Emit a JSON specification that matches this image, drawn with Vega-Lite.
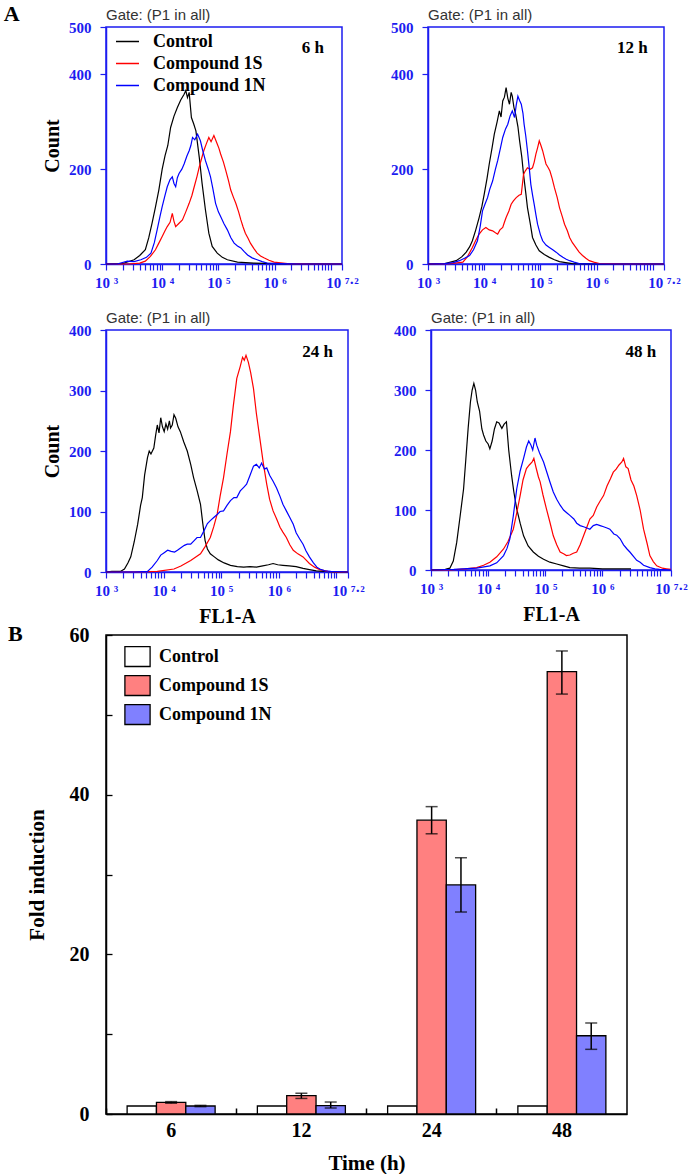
{
"$schema":"https://vega.github.io/schema/vega-lite/v6.json",
"background":"white",
"padding":{"left":3,"top":3,"right":5,"bottom":0},
"config":{"view":{"stroke":"#1c1cf0","strokeWidth":1.5},"axis":{"grid":false}},
"datasets":{
"h6c":[{"e":3,"c":0},{"e":3.3,"c":1},{"e":3.5,"c":9},{"e":3.6,"c":18},{"e":3.7,"c":30},{"e":3.76,"c":55},{"e":3.82,"c":86},{"e":3.88,"c":120},{"e":3.94,"c":156},{"e":4,"c":200},{"e":4.05,"c":228},{"e":4.1,"c":250},{"e":4.15,"c":288},{"e":4.21,"c":312},{"e":4.27,"c":330},{"e":4.33,"c":346},{"e":4.39,"c":358},{"e":4.42,"c":366},{"e":4.45,"c":351},{"e":4.48,"c":362},{"e":4.52,"c":309},{"e":4.56,"c":296},{"e":4.6,"c":281},{"e":4.66,"c":225},{"e":4.71,"c":170},{"e":4.77,"c":114},{"e":4.83,"c":65},{"e":4.89,"c":37},{"e":4.98,"c":23},{"e":5.07,"c":14},{"e":5.16,"c":9},{"e":5.34,"c":4},{"e":5.63,"c":2},{"e":6,"c":1},{"e":6.5,"c":0},{"e":7.2,"c":0}],
"h6s":[{"e":3,"c":0},{"e":3.4,"c":0},{"e":3.6,"c":2},{"e":3.7,"c":6},{"e":3.79,"c":16},{"e":3.88,"c":30},{"e":3.94,"c":44},{"e":4,"c":58},{"e":4.05,"c":70},{"e":4.09,"c":79},{"e":4.14,"c":88},{"e":4.18,"c":107},{"e":4.21,"c":90},{"e":4.24,"c":79},{"e":4.3,"c":86},{"e":4.36,"c":93},{"e":4.42,"c":110},{"e":4.48,"c":128},{"e":4.53,"c":145},{"e":4.57,"c":163},{"e":4.62,"c":185},{"e":4.66,"c":205},{"e":4.7,"c":222},{"e":4.74,"c":239},{"e":4.79,"c":255},{"e":4.83,"c":267},{"e":4.87,"c":258},{"e":4.92,"c":271},{"e":4.95,"c":262},{"e":4.98,"c":253},{"e":5.01,"c":244},{"e":5.04,"c":232},{"e":5.09,"c":215},{"e":5.13,"c":198},{"e":5.18,"c":176},{"e":5.22,"c":156},{"e":5.27,"c":140},{"e":5.31,"c":128},{"e":5.36,"c":110},{"e":5.4,"c":93},{"e":5.44,"c":78},{"e":5.48,"c":65},{"e":5.53,"c":54},{"e":5.57,"c":44},{"e":5.63,"c":33},{"e":5.69,"c":23},{"e":5.75,"c":17},{"e":5.81,"c":13},{"e":5.9,"c":8},{"e":5.99,"c":4},{"e":6.23,"c":1},{"e":6.6,"c":0},{"e":7.2,"c":0}],
"h6n":[{"e":3,"c":0},{"e":3.2,"c":0},{"e":3.38,"c":6},{"e":3.5,"c":5},{"e":3.62,"c":9},{"e":3.72,"c":14},{"e":3.8,"c":23},{"e":3.86,"c":45},{"e":3.91,"c":72},{"e":3.96,"c":100},{"e":4,"c":121},{"e":4.05,"c":145},{"e":4.09,"c":163},{"e":4.14,"c":178},{"e":4.18,"c":184},{"e":4.21,"c":170},{"e":4.24,"c":163},{"e":4.27,"c":182},{"e":4.3,"c":191},{"e":4.35,"c":200},{"e":4.39,"c":211},{"e":4.44,"c":228},{"e":4.48,"c":239},{"e":4.51,"c":250},{"e":4.54,"c":267},{"e":4.58,"c":262},{"e":4.63,"c":274},{"e":4.68,"c":260},{"e":4.72,"c":240},{"e":4.77,"c":218},{"e":4.82,"c":200},{"e":4.86,"c":184},{"e":4.9,"c":160},{"e":4.95,"c":128},{"e":5,"c":110},{"e":5.04,"c":100},{"e":5.1,"c":85},{"e":5.16,"c":72},{"e":5.22,"c":56},{"e":5.28,"c":44},{"e":5.34,"c":38},{"e":5.4,"c":34},{"e":5.46,"c":26},{"e":5.52,"c":19},{"e":5.6,"c":13},{"e":5.69,"c":9},{"e":5.78,"c":5},{"e":5.87,"c":2},{"e":6.1,"c":1},{"e":6.5,"c":0},{"e":7.2,"c":0}],
"h12c":[{"e":3,"c":0},{"e":3.3,"c":1},{"e":3.5,"c":7},{"e":3.6,"c":15},{"e":3.68,"c":25},{"e":3.74,"c":36},{"e":3.79,"c":49},{"e":3.85,"c":72},{"e":3.91,"c":98},{"e":3.96,"c":122},{"e":4,"c":147},{"e":4.05,"c":180},{"e":4.09,"c":211},{"e":4.14,"c":245},{"e":4.18,"c":274},{"e":4.23,"c":300},{"e":4.27,"c":323},{"e":4.3,"c":310},{"e":4.33,"c":344},{"e":4.36,"c":352},{"e":4.39,"c":372},{"e":4.42,"c":350},{"e":4.45,"c":337},{"e":4.48,"c":362},{"e":4.5,"c":354},{"e":4.53,"c":330},{"e":4.56,"c":316},{"e":4.6,"c":290},{"e":4.63,"c":260},{"e":4.67,"c":225},{"e":4.7,"c":189},{"e":4.74,"c":150},{"e":4.77,"c":119},{"e":4.82,"c":85},{"e":4.86,"c":56},{"e":4.92,"c":40},{"e":4.98,"c":28},{"e":5.07,"c":20},{"e":5.16,"c":14},{"e":5.25,"c":9},{"e":5.34,"c":5},{"e":5.45,"c":3},{"e":5.57,"c":1},{"e":6,"c":0},{"e":7.2,"c":0}],
"h12s":[{"e":3,"c":0},{"e":3.4,"c":1},{"e":3.55,"c":3},{"e":3.62,"c":4},{"e":3.7,"c":15},{"e":3.79,"c":35},{"e":3.85,"c":50},{"e":3.91,"c":63},{"e":3.97,"c":72},{"e":4.03,"c":77},{"e":4.09,"c":72},{"e":4.15,"c":70},{"e":4.2,"c":66},{"e":4.24,"c":63},{"e":4.28,"c":72},{"e":4.33,"c":77},{"e":4.36,"c":88},{"e":4.39,"c":98},{"e":4.44,"c":112},{"e":4.48,"c":126},{"e":4.52,"c":133},{"e":4.57,"c":140},{"e":4.62,"c":145},{"e":4.66,"c":147},{"e":4.7,"c":189},{"e":4.73,"c":196},{"e":4.77,"c":203},{"e":4.82,"c":200},{"e":4.86,"c":203},{"e":4.89,"c":215},{"e":4.92,"c":232},{"e":4.95,"c":245},{"e":4.98,"c":260},{"e":5.01,"c":250},{"e":5.04,"c":239},{"e":5.07,"c":225},{"e":5.1,"c":211},{"e":5.14,"c":203},{"e":5.17,"c":196},{"e":5.21,"c":180},{"e":5.25,"c":161},{"e":5.3,"c":140},{"e":5.34,"c":119},{"e":5.39,"c":100},{"e":5.43,"c":84},{"e":5.48,"c":70},{"e":5.52,"c":56},{"e":5.57,"c":45},{"e":5.63,"c":35},{"e":5.69,"c":25},{"e":5.75,"c":18},{"e":5.81,"c":12},{"e":5.87,"c":7},{"e":5.95,"c":4},{"e":6.05,"c":1},{"e":6.5,"c":0},{"e":7.2,"c":0}],
"h12n":[{"e":3,"c":0},{"e":3.3,"c":1},{"e":3.45,"c":3},{"e":3.56,"c":7},{"e":3.65,"c":12},{"e":3.74,"c":18},{"e":3.81,"c":30},{"e":3.88,"c":49},{"e":3.93,"c":80},{"e":3.97,"c":112},{"e":4.01,"c":125},{"e":4.06,"c":140},{"e":4.1,"c":158},{"e":4.15,"c":175},{"e":4.2,"c":200},{"e":4.24,"c":218},{"e":4.29,"c":245},{"e":4.33,"c":267},{"e":4.38,"c":285},{"e":4.42,"c":295},{"e":4.46,"c":312},{"e":4.5,"c":323},{"e":4.54,"c":309},{"e":4.57,"c":335},{"e":4.6,"c":354},{"e":4.63,"c":345},{"e":4.66,"c":337},{"e":4.69,"c":318},{"e":4.71,"c":295},{"e":4.74,"c":270},{"e":4.77,"c":239},{"e":4.8,"c":205},{"e":4.83,"c":168},{"e":4.86,"c":146},{"e":4.89,"c":126},{"e":4.92,"c":104},{"e":4.95,"c":84},{"e":5,"c":62},{"e":5.04,"c":49},{"e":5.1,"c":40},{"e":5.16,"c":35},{"e":5.22,"c":30},{"e":5.28,"c":25},{"e":5.34,"c":19},{"e":5.4,"c":14},{"e":5.46,"c":10},{"e":5.52,"c":7},{"e":5.6,"c":4},{"e":5.69,"c":1},{"e":6,"c":0},{"e":7.2,"c":0}],
"h24c":[{"e":3,"c":0},{"e":3.1,"c":1},{"e":3.25,"c":1},{"e":3.32,"c":5},{"e":3.38,"c":15},{"e":3.43,"c":25},{"e":3.49,"c":50},{"e":3.55,"c":79},{"e":3.6,"c":110},{"e":3.63,"c":123},{"e":3.67,"c":160},{"e":3.72,"c":189},{"e":3.75,"c":200},{"e":3.78,"c":195},{"e":3.83,"c":205},{"e":3.86,"c":225},{"e":3.89,"c":243},{"e":3.92,"c":230},{"e":3.95,"c":255},{"e":3.98,"c":240},{"e":4.01,"c":232},{"e":4.04,"c":245},{"e":4.07,"c":236},{"e":4.1,"c":250},{"e":4.12,"c":238},{"e":4.15,"c":243},{"e":4.18,"c":260},{"e":4.21,"c":254},{"e":4.25,"c":240},{"e":4.29,"c":232},{"e":4.35,"c":215},{"e":4.41,"c":200},{"e":4.47,"c":178},{"e":4.52,"c":156},{"e":4.58,"c":135},{"e":4.64,"c":112},{"e":4.68,"c":80},{"e":4.72,"c":52},{"e":4.76,"c":38},{"e":4.81,"c":30},{"e":4.88,"c":25},{"e":4.95,"c":20},{"e":5.05,"c":15},{"e":5.16,"c":11},{"e":5.28,"c":9},{"e":5.39,"c":8},{"e":5.5,"c":9},{"e":5.61,"c":8},{"e":5.72,"c":10},{"e":5.82,"c":12},{"e":5.9,"c":14},{"e":5.98,"c":12},{"e":6.07,"c":11},{"e":6.18,"c":10},{"e":6.3,"c":9},{"e":6.42,"c":6},{"e":6.53,"c":4},{"e":6.65,"c":2},{"e":6.8,"c":1},{"e":7,"c":0},{"e":7.2,"c":0}],
"h24s":[{"e":3,"c":0},{"e":3.5,"c":0},{"e":3.89,"c":1},{"e":4.18,"c":5},{"e":4.3,"c":10},{"e":4.47,"c":19},{"e":4.64,"c":30},{"e":4.72,"c":42},{"e":4.81,"c":57},{"e":4.87,"c":75},{"e":4.93,"c":96},{"e":4.98,"c":125},{"e":5.04,"c":156},{"e":5.1,"c":195},{"e":5.16,"c":232},{"e":5.21,"c":275},{"e":5.27,"c":320},{"e":5.33,"c":340},{"e":5.37,"c":355},{"e":5.4,"c":350},{"e":5.43,"c":358},{"e":5.47,"c":347},{"e":5.51,"c":330},{"e":5.56,"c":303},{"e":5.61,"c":262},{"e":5.67,"c":221},{"e":5.73,"c":180},{"e":5.79,"c":145},{"e":5.84,"c":120},{"e":5.9,"c":101},{"e":5.96,"c":88},{"e":6.02,"c":74},{"e":6.07,"c":66},{"e":6.13,"c":57},{"e":6.19,"c":45},{"e":6.25,"c":36},{"e":6.33,"c":30},{"e":6.42,"c":25},{"e":6.47,"c":20},{"e":6.53,"c":14},{"e":6.62,"c":8},{"e":6.71,"c":4},{"e":6.85,"c":1},{"e":7,"c":0},{"e":7.2,"c":0}],
"h24n":[{"e":3,"c":0},{"e":3.5,"c":0},{"e":3.72,"c":1},{"e":3.8,"c":8},{"e":3.89,"c":19},{"e":3.95,"c":28},{"e":4.01,"c":32},{"e":4.07,"c":36},{"e":4.13,"c":34},{"e":4.19,"c":33},{"e":4.24,"c":36},{"e":4.3,"c":40},{"e":4.36,"c":44},{"e":4.41,"c":46},{"e":4.47,"c":46},{"e":4.53,"c":52},{"e":4.58,"c":57},{"e":4.64,"c":57},{"e":4.7,"c":68},{"e":4.76,"c":80},{"e":4.81,"c":85},{"e":4.87,"c":90},{"e":4.93,"c":95},{"e":4.98,"c":100},{"e":5.04,"c":101},{"e":5.1,"c":110},{"e":5.16,"c":118},{"e":5.22,"c":123},{"e":5.27,"c":123},{"e":5.33,"c":134},{"e":5.39,"c":140},{"e":5.44,"c":145},{"e":5.5,"c":160},{"e":5.56,"c":175},{"e":5.61,"c":178},{"e":5.66,"c":172},{"e":5.7,"c":180},{"e":5.75,"c":170},{"e":5.79,"c":172},{"e":5.84,"c":160},{"e":5.9,"c":150},{"e":5.96,"c":139},{"e":6.02,"c":125},{"e":6.07,"c":112},{"e":6.13,"c":101},{"e":6.19,"c":90},{"e":6.25,"c":79},{"e":6.3,"c":65},{"e":6.36,"c":55},{"e":6.42,"c":46},{"e":6.47,"c":35},{"e":6.53,"c":25},{"e":6.6,"c":15},{"e":6.66,"c":8},{"e":6.71,"c":5},{"e":6.8,"c":2},{"e":6.9,"c":1},{"e":7.2,"c":0}],
"h48c":[{"e":3,"c":0},{"e":3.25,"c":1},{"e":3.33,"c":3},{"e":3.39,"c":15},{"e":3.45,"c":46},{"e":3.51,"c":90},{"e":3.57,"c":135},{"e":3.61,"c":185},{"e":3.65,"c":236},{"e":3.69,"c":280},{"e":3.72,"c":300},{"e":3.75,"c":311},{"e":3.78,"c":300},{"e":3.81,"c":280},{"e":3.85,"c":265},{"e":3.89,"c":235},{"e":3.92,"c":225},{"e":3.96,"c":215},{"e":4,"c":210},{"e":4.03,"c":202},{"e":4.07,"c":215},{"e":4.11,"c":235},{"e":4.15,"c":247},{"e":4.19,"c":245},{"e":4.24,"c":236},{"e":4.28,"c":243},{"e":4.32,"c":247},{"e":4.36,"c":200},{"e":4.41,"c":158},{"e":4.45,"c":130},{"e":4.5,"c":102},{"e":4.56,"c":78},{"e":4.62,"c":57},{"e":4.7,"c":40},{"e":4.79,"c":30},{"e":4.88,"c":23},{"e":4.97,"c":18},{"e":5.08,"c":13},{"e":5.2,"c":10},{"e":5.32,"c":7},{"e":5.43,"c":4},{"e":5.6,"c":3},{"e":5.78,"c":3},{"e":6,"c":2},{"e":6.3,"c":2},{"e":6.5,"c":2}],
"h48s":[{"e":3,"c":0},{"e":3.33,"c":0},{"e":3.6,"c":2},{"e":3.8,"c":4},{"e":3.92,"c":8},{"e":4.03,"c":13},{"e":4.15,"c":22},{"e":4.27,"c":35},{"e":4.35,"c":48},{"e":4.44,"c":68},{"e":4.5,"c":95},{"e":4.56,"c":124},{"e":4.61,"c":150},{"e":4.67,"c":169},{"e":4.72,"c":175},{"e":4.77,"c":180},{"e":4.8,"c":186},{"e":4.84,"c":170},{"e":4.88,"c":155},{"e":4.91,"c":147},{"e":4.96,"c":125},{"e":5.02,"c":102},{"e":5.08,"c":80},{"e":5.14,"c":57},{"e":5.2,"c":42},{"e":5.26,"c":30},{"e":5.32,"c":27},{"e":5.37,"c":24},{"e":5.43,"c":25},{"e":5.49,"c":28},{"e":5.55,"c":30},{"e":5.61,"c":42},{"e":5.67,"c":57},{"e":5.73,"c":72},{"e":5.78,"c":85},{"e":5.84,"c":91},{"e":5.9,"c":105},{"e":5.96,"c":115},{"e":6.02,"c":124},{"e":6.08,"c":140},{"e":6.14,"c":152},{"e":6.19,"c":163},{"e":6.24,"c":168},{"e":6.29,"c":175},{"e":6.34,"c":180},{"e":6.37,"c":186},{"e":6.41,"c":172},{"e":6.45,"c":169},{"e":6.5,"c":150},{"e":6.55,"c":140},{"e":6.6,"c":124},{"e":6.66,"c":100},{"e":6.72,"c":68},{"e":6.78,"c":45},{"e":6.83,"c":24},{"e":6.89,"c":14},{"e":6.95,"c":7},{"e":7.05,"c":3},{"e":7.12,"c":2},{"e":7.2,"c":1}],
"h48n":[{"e":3,"c":0},{"e":3.4,"c":1},{"e":3.8,"c":3},{"e":4.03,"c":7},{"e":4.15,"c":12},{"e":4.27,"c":24},{"e":4.33,"c":36},{"e":4.38,"c":52},{"e":4.44,"c":90},{"e":4.5,"c":135},{"e":4.56,"c":165},{"e":4.62,"c":186},{"e":4.67,"c":205},{"e":4.71,"c":215},{"e":4.75,"c":208},{"e":4.78,"c":200},{"e":4.82,"c":220},{"e":4.85,"c":208},{"e":4.9,"c":195},{"e":4.97,"c":180},{"e":5.02,"c":165},{"e":5.08,"c":147},{"e":5.14,"c":130},{"e":5.2,"c":118},{"e":5.26,"c":108},{"e":5.32,"c":100},{"e":5.38,"c":95},{"e":5.43,"c":91},{"e":5.5,"c":85},{"e":5.55,"c":78},{"e":5.61,"c":74},{"e":5.67,"c":72},{"e":5.73,"c":70},{"e":5.78,"c":68},{"e":5.84,"c":74},{"e":5.9,"c":76},{"e":5.96,"c":74},{"e":6.02,"c":72},{"e":6.08,"c":70},{"e":6.13,"c":68},{"e":6.2,"c":60},{"e":6.25,"c":58},{"e":6.31,"c":52},{"e":6.37,"c":42},{"e":6.43,"c":35},{"e":6.48,"c":30},{"e":6.55,"c":22},{"e":6.6,"c":16},{"e":6.66,"c":13},{"e":6.72,"c":8},{"e":6.83,"c":4},{"e":6.92,"c":2},{"e":7,"c":1},{"e":7.2,"c":0}],
"bars":[{"time":"6","g":"Control","v":1},{"time":"6","g":"Compound 1S","v":1.45,"lo":1.35,"hi":1.55},{"time":"6","g":"Compound 1N","v":1.0,"lo":0.92,"hi":1.08},{"time":"12","g":"Control","v":1},{"time":"12","g":"Compound 1S","v":2.3,"lo":1.95,"hi":2.6},{"time":"12","g":"Compound 1N","v":1.05,"lo":0.75,"hi":1.5},{"time":"24","g":"Control","v":1},{"time":"24","g":"Compound 1S","v":36.8,"lo":35.1,"hi":38.5},{"time":"24","g":"Compound 1N","v":28.7,"lo":25.3,"hi":32.1},{"time":"48","g":"Control","v":1},{"time":"48","g":"Compound 1S","v":55.4,"lo":52.6,"hi":58.0},{"time":"48","g":"Compound 1N","v":9.8,"lo":8.1,"hi":11.4}]
},
"vconcat":[
{
"title":{"text":"A","anchor":"start","frame":"bounds","baseline":"top","offset":2,"dx":-38,"dy":21,"font":"Liberation Serif","fontSize":22,"fontWeight":"bold","color":"#000"},
"spacing":19,
"resolve":{"scale":{"color":"independent"},"legend":{"color":"independent"}},
"vconcat":[
{"spacing":29,"resolve":{"scale":{"color":"independent"},"legend":{"color":"independent"}},
"hconcat":[
{"width":236,"height":237,
"title":{"text":"Gate: (P1 in all)","anchor":"start","frame":"group","font":"Liberation Sans","fontSize":15,"fontWeight":"normal","color":"#333333","offset":-3},
"layer":[
{"encoding":{
"x":{"field":"e","type":"quantitative","scale":{"domain":[3,7.2],"nice":false,"zero":false},"axis":{"title":null,"values":[3,3.301,3.477,3.602,3.699,3.778,3.845,3.903,3.954,4,4.301,4.477,4.602,4.699,4.778,4.845,4.903,4.954,5,5.301,5.477,5.602,5.699,5.778,5.845,5.903,5.954,6,6.301,6.477,6.602,6.699,6.778,6.845,6.903,6.954,7,7.2],"labelExpr":"datum.value==3?'10 ³':datum.value==4?'10 ⁴':datum.value==5?'10 ⁵':datum.value==6?'10 ⁶':datum.value==7.2?'10 ⁷·²':''","labelFont":"Liberation Serif","labelFontWeight":"bold","labelFontSize":15,"labelColor":"#1c1cf0","labelFlush":false,"labelOverlap":false,"labelPadding":5,"tickColor":"#1c1cf0","tickSize":6,"tickWidth":1.2,"domainColor":"#1c1cf0","domainWidth":1.5}},
"y":{"field":"c","type":"quantitative","scale":{"domain":[0,500],"nice":false},"axis":{"title":"Count","values":[0,200,400,500],"labelFont":"Liberation Serif","labelFontWeight":"bold","labelFontSize":15,"labelColor":"#1c1cf0","labelPadding":9,"tickColor":"#1c1cf0","tickSize":6,"tickWidth":1.2,"domainColor":"#1c1cf0","domainWidth":1.5,"titleFont":"Liberation Serif","titleFontSize":20,"titleFontWeight":"bold","titleColor":"#000","titlePadding":6}}
},
"layer":[
{"data":{"name":"h6c"},"mark":{"type":"line","strokeWidth":1.2},"encoding":{"color":{"datum":"Control","type":"nominal","scale":{"domain":["Control","Compound 1S","Compound 1N"],"range":["#000000","#ff0000","#0000ff"]},"legend":{"title":null,"orient":"top-left","offset":5,"padding":0,"symbolOffset":7,"symbolType":"M-1.35,0H1.35","symbolSize":289,"symbolStrokeWidth":1.5,"labelFont":"Liberation Serif","labelFontWeight":"bold","labelFontSize":18,"labelColor":"#000","rowPadding":3,"labelOffset":16}}}},
{"data":{"name":"h6s"},"mark":{"type":"line","strokeWidth":1.2},"encoding":{"color":{"datum":"Compound 1S","type":"nominal"}}},
{"data":{"name":"h6n"},"mark":{"type":"line","strokeWidth":1.2},"encoding":{"color":{"datum":"Compound 1N","type":"nominal"}}}
]},
{"data":{"values":[{"lbl":"6 h"}]},"mark":{"type":"text","font":"Liberation Serif","fontWeight":"bold","fontSize":17,"align":"right","baseline":"alphabetic","color":"#000"},"encoding":{
"x":{"datum":6.88,"type":"quantitative","axis":{"title":null,"values":[3,3.301,3.477,3.602,3.699,3.778,3.845,3.903,3.954,4,4.301,4.477,4.602,4.699,4.778,4.845,4.903,4.954,5,5.301,5.477,5.602,5.699,5.778,5.845,5.903,5.954,6,6.301,6.477,6.602,6.699,6.778,6.845,6.903,6.954,7,7.2],"labelExpr":"datum.value==3?'10 ³':datum.value==4?'10 ⁴':datum.value==5?'10 ⁵':datum.value==6?'10 ⁶':datum.value==7.2?'10 ⁷·²':''","labelFont":"Liberation Serif","labelFontWeight":"bold","labelFontSize":15,"labelColor":"#1c1cf0","labelFlush":false,"labelOverlap":false,"labelPadding":5,"tickColor":"#1c1cf0","tickSize":6,"tickWidth":1.2,"domainColor":"#1c1cf0","domainWidth":1.5}},
"y":{"datum":445,"type":"quantitative","axis":{"title":"Count","values":[0,200,400,500],"labelFont":"Liberation Serif","labelFontWeight":"bold","labelFontSize":15,"labelColor":"#1c1cf0","labelPadding":9,"tickColor":"#1c1cf0","tickSize":6,"tickWidth":1.2,"domainColor":"#1c1cf0","domainWidth":1.5,"titleFont":"Liberation Serif","titleFontSize":20,"titleFontWeight":"bold","titleColor":"#000","titlePadding":6}},
"text":{"field":"lbl","type":"nominal"}}}
]},
{"width":236,"height":237,
"title":{"text":"Gate: (P1 in all)","anchor":"start","frame":"group","font":"Liberation Sans","fontSize":15,"fontWeight":"normal","color":"#333333","offset":-3},
"layer":[
{"encoding":{
"x":{"field":"e","type":"quantitative","scale":{"domain":[3,7.2],"nice":false,"zero":false},"axis":{"title":null,"values":[3,3.301,3.477,3.602,3.699,3.778,3.845,3.903,3.954,4,4.301,4.477,4.602,4.699,4.778,4.845,4.903,4.954,5,5.301,5.477,5.602,5.699,5.778,5.845,5.903,5.954,6,6.301,6.477,6.602,6.699,6.778,6.845,6.903,6.954,7,7.2],"labelExpr":"datum.value==3?'10 ³':datum.value==4?'10 ⁴':datum.value==5?'10 ⁵':datum.value==6?'10 ⁶':datum.value==7.2?'10 ⁷·²':''","labelFont":"Liberation Serif","labelFontWeight":"bold","labelFontSize":15,"labelColor":"#1c1cf0","labelFlush":false,"labelOverlap":false,"labelPadding":5,"tickColor":"#1c1cf0","tickSize":6,"tickWidth":1.2,"domainColor":"#1c1cf0","domainWidth":1.5}},
"y":{"field":"c","type":"quantitative","scale":{"domain":[0,500],"nice":false},"axis":{"title":null,"values":[0,200,400,500],"labelFont":"Liberation Serif","labelFontWeight":"bold","labelFontSize":15,"labelColor":"#1c1cf0","labelPadding":9,"tickColor":"#1c1cf0","tickSize":6,"tickWidth":1.2,"domainColor":"#1c1cf0","domainWidth":1.5}}
},
"layer":[
{"data":{"name":"h12c"},"mark":{"type":"line","strokeWidth":1.2},"encoding":{"color":{"datum":"Control","type":"nominal","scale":{"domain":["Control","Compound 1S","Compound 1N"],"range":["#000000","#ff0000","#0000ff"]},"legend":null}}},
{"data":{"name":"h12s"},"mark":{"type":"line","strokeWidth":1.2},"encoding":{"color":{"datum":"Compound 1S","type":"nominal","legend":null}}},
{"data":{"name":"h12n"},"mark":{"type":"line","strokeWidth":1.2},"encoding":{"color":{"datum":"Compound 1N","type":"nominal","legend":null}}}
]},
{"data":{"values":[{"lbl":"12 h"}]},"mark":{"type":"text","font":"Liberation Serif","fontWeight":"bold","fontSize":17,"align":"right","baseline":"alphabetic","color":"#000"},"encoding":{
"x":{"datum":6.91,"type":"quantitative","axis":{"title":null,"values":[3,3.301,3.477,3.602,3.699,3.778,3.845,3.903,3.954,4,4.301,4.477,4.602,4.699,4.778,4.845,4.903,4.954,5,5.301,5.477,5.602,5.699,5.778,5.845,5.903,5.954,6,6.301,6.477,6.602,6.699,6.778,6.845,6.903,6.954,7,7.2],"labelExpr":"datum.value==3?'10 ³':datum.value==4?'10 ⁴':datum.value==5?'10 ⁵':datum.value==6?'10 ⁶':datum.value==7.2?'10 ⁷·²':''","labelFont":"Liberation Serif","labelFontWeight":"bold","labelFontSize":15,"labelColor":"#1c1cf0","labelFlush":false,"labelOverlap":false,"labelPadding":5,"tickColor":"#1c1cf0","tickSize":6,"tickWidth":1.2,"domainColor":"#1c1cf0","domainWidth":1.5}},
"y":{"datum":445,"type":"quantitative","axis":{"title":null,"values":[0,200,400,500],"labelFont":"Liberation Serif","labelFontWeight":"bold","labelFontSize":15,"labelColor":"#1c1cf0","labelPadding":9,"tickColor":"#1c1cf0","tickSize":6,"tickWidth":1.2,"domainColor":"#1c1cf0","domainWidth":1.5}},
"text":{"field":"lbl","type":"nominal"}}}
]}
]},
{"spacing":26,"resolve":{"scale":{"color":"independent"},"legend":{"color":"independent"}},
"hconcat":[
{"width":242,"height":242,
"title":{"text":"Gate: (P1 in all)","anchor":"start","frame":"group","font":"Liberation Sans","fontSize":15,"fontWeight":"normal","color":"#333333","offset":-3},
"layer":[
{"encoding":{
"x":{"field":"e","type":"quantitative","scale":{"domain":[3,7.2],"nice":false,"zero":false},"axis":{"title":"FL1-A","values":[3,3.301,3.477,3.602,3.699,3.778,3.845,3.903,3.954,4,4.301,4.477,4.602,4.699,4.778,4.845,4.903,4.954,5,5.301,5.477,5.602,5.699,5.778,5.845,5.903,5.954,6,6.301,6.477,6.602,6.699,6.778,6.845,6.903,6.954,7,7.2],"labelExpr":"datum.value==3?'10 ³':datum.value==4?'10 ⁴':datum.value==5?'10 ⁵':datum.value==6?'10 ⁶':datum.value==7.2?'10 ⁷·²':''","labelFont":"Liberation Serif","labelFontWeight":"bold","labelFontSize":15,"labelColor":"#1c1cf0","labelFlush":false,"labelOverlap":false,"labelPadding":5,"tickColor":"#1c1cf0","tickSize":6,"tickWidth":1.2,"domainColor":"#1c1cf0","domainWidth":1.5,"titleFont":"Liberation Serif","titleFontSize":20,"titleFontWeight":"bold","titleColor":"#000","titlePadding":8}},
"y":{"field":"c","type":"quantitative","scale":{"domain":[0,400],"nice":false},"axis":{"title":"Count","values":[0,100,200,300,400],"labelFont":"Liberation Serif","labelFontWeight":"bold","labelFontSize":15,"labelColor":"#1c1cf0","labelPadding":9,"tickColor":"#1c1cf0","tickSize":6,"tickWidth":1.2,"domainColor":"#1c1cf0","domainWidth":1.5,"titleFont":"Liberation Serif","titleFontSize":20,"titleFontWeight":"bold","titleColor":"#000","titlePadding":6}}
},
"layer":[
{"data":{"name":"h24c"},"mark":{"type":"line","strokeWidth":1.2},"encoding":{"color":{"datum":"Control","type":"nominal","scale":{"domain":["Control","Compound 1S","Compound 1N"],"range":["#000000","#ff0000","#0000ff"]},"legend":null}}},
{"data":{"name":"h24s"},"mark":{"type":"line","strokeWidth":1.2},"encoding":{"color":{"datum":"Compound 1S","type":"nominal","legend":null}}},
{"data":{"name":"h24n"},"mark":{"type":"line","strokeWidth":1.2},"encoding":{"color":{"datum":"Compound 1N","type":"nominal","legend":null}}}
]},
{"data":{"values":[{"lbl":"24 h"}]},"mark":{"type":"text","font":"Liberation Serif","fontWeight":"bold","fontSize":17,"align":"right","baseline":"alphabetic","color":"#000"},"encoding":{
"x":{"datum":6.94,"type":"quantitative","axis":{"title":"FL1-A","values":[3,3.301,3.477,3.602,3.699,3.778,3.845,3.903,3.954,4,4.301,4.477,4.602,4.699,4.778,4.845,4.903,4.954,5,5.301,5.477,5.602,5.699,5.778,5.845,5.903,5.954,6,6.301,6.477,6.602,6.699,6.778,6.845,6.903,6.954,7,7.2],"labelExpr":"datum.value==3?'10 ³':datum.value==4?'10 ⁴':datum.value==5?'10 ⁵':datum.value==6?'10 ⁶':datum.value==7.2?'10 ⁷·²':''","labelFont":"Liberation Serif","labelFontWeight":"bold","labelFontSize":15,"labelColor":"#1c1cf0","labelFlush":false,"labelOverlap":false,"labelPadding":5,"tickColor":"#1c1cf0","tickSize":6,"tickWidth":1.2,"domainColor":"#1c1cf0","domainWidth":1.5,"titleFont":"Liberation Serif","titleFontSize":20,"titleFontWeight":"bold","titleColor":"#000","titlePadding":8}},
"y":{"datum":355,"type":"quantitative","axis":{"title":"Count","values":[0,100,200,300,400],"labelFont":"Liberation Serif","labelFontWeight":"bold","labelFontSize":15,"labelColor":"#1c1cf0","labelPadding":9,"tickColor":"#1c1cf0","tickSize":6,"tickWidth":1.2,"domainColor":"#1c1cf0","domainWidth":1.5,"titleFont":"Liberation Serif","titleFontSize":20,"titleFontWeight":"bold","titleColor":"#000","titlePadding":6}},
"text":{"field":"lbl","type":"nominal"}}}
]},
{"width":240,"height":240,
"title":{"text":"Gate: (P1 in all)","anchor":"start","frame":"group","font":"Liberation Sans","fontSize":15,"fontWeight":"normal","color":"#333333","offset":-3},
"layer":[
{"encoding":{
"x":{"field":"e","type":"quantitative","scale":{"domain":[3,7.2],"nice":false,"zero":false},"axis":{"title":"FL1-A","values":[3,3.301,3.477,3.602,3.699,3.778,3.845,3.903,3.954,4,4.301,4.477,4.602,4.699,4.778,4.845,4.903,4.954,5,5.301,5.477,5.602,5.699,5.778,5.845,5.903,5.954,6,6.301,6.477,6.602,6.699,6.778,6.845,6.903,6.954,7,7.2],"labelExpr":"datum.value==3?'10 ³':datum.value==4?'10 ⁴':datum.value==5?'10 ⁵':datum.value==6?'10 ⁶':datum.value==7.2?'10 ⁷·²':''","labelFont":"Liberation Serif","labelFontWeight":"bold","labelFontSize":15,"labelColor":"#1c1cf0","labelFlush":false,"labelOverlap":false,"labelPadding":5,"tickColor":"#1c1cf0","tickSize":6,"tickWidth":1.2,"domainColor":"#1c1cf0","domainWidth":1.5,"titleFont":"Liberation Serif","titleFontSize":20,"titleFontWeight":"bold","titleColor":"#000","titlePadding":8}},
"y":{"field":"c","type":"quantitative","scale":{"domain":[0,400],"nice":false},"axis":{"title":null,"values":[0,100,200,300,400],"labelFont":"Liberation Serif","labelFontWeight":"bold","labelFontSize":15,"labelColor":"#1c1cf0","labelPadding":9,"tickColor":"#1c1cf0","tickSize":6,"tickWidth":1.2,"domainColor":"#1c1cf0","domainWidth":1.5}}
},
"layer":[
{"data":{"name":"h48c"},"mark":{"type":"line","strokeWidth":1.2},"encoding":{"color":{"datum":"Control","type":"nominal","scale":{"domain":["Control","Compound 1S","Compound 1N"],"range":["#000000","#ff0000","#0000ff"]},"legend":null}}},
{"data":{"name":"h48s"},"mark":{"type":"line","strokeWidth":1.2},"encoding":{"color":{"datum":"Compound 1S","type":"nominal","legend":null}}},
{"data":{"name":"h48n"},"mark":{"type":"line","strokeWidth":1.2},"encoding":{"color":{"datum":"Compound 1N","type":"nominal","legend":null}}}
]},
{"data":{"values":[{"lbl":"48 h"}]},"mark":{"type":"text","font":"Liberation Serif","fontWeight":"bold","fontSize":17,"align":"right","baseline":"alphabetic","color":"#000"},"encoding":{
"x":{"datum":6.94,"type":"quantitative","axis":{"title":"FL1-A","values":[3,3.301,3.477,3.602,3.699,3.778,3.845,3.903,3.954,4,4.301,4.477,4.602,4.699,4.778,4.845,4.903,4.954,5,5.301,5.477,5.602,5.699,5.778,5.845,5.903,5.954,6,6.301,6.477,6.602,6.699,6.778,6.845,6.903,6.954,7,7.2],"labelExpr":"datum.value==3?'10 ³':datum.value==4?'10 ⁴':datum.value==5?'10 ⁵':datum.value==6?'10 ⁶':datum.value==7.2?'10 ⁷·²':''","labelFont":"Liberation Serif","labelFontWeight":"bold","labelFontSize":15,"labelColor":"#1c1cf0","labelFlush":false,"labelOverlap":false,"labelPadding":5,"tickColor":"#1c1cf0","tickSize":6,"tickWidth":1.2,"domainColor":"#1c1cf0","domainWidth":1.5,"titleFont":"Liberation Serif","titleFontSize":20,"titleFontWeight":"bold","titleColor":"#000","titlePadding":8}},
"y":{"datum":355,"type":"quantitative","axis":{"title":null,"values":[0,100,200,300,400],"labelFont":"Liberation Serif","labelFontWeight":"bold","labelFontSize":15,"labelColor":"#1c1cf0","labelPadding":9,"tickColor":"#1c1cf0","tickSize":6,"tickWidth":1.2,"domainColor":"#1c1cf0","domainWidth":1.5}},
"text":{"field":"lbl","type":"nominal"}}}
]}
]}
]
},
{
"width":521,"height":479,
"view":{"stroke":"#000000","strokeWidth":1.5},
"title":{"text":"B","anchor":"start","frame":"bounds","baseline":"top","offset":0,"dx":-18,"dy":21,"font":"Liberation Serif","fontSize":22,"fontWeight":"bold","color":"#000"},
"data":{"name":"bars"},
"encoding":{
"x":{"field":"time","type":"ordinal","sort":["6","12","24","48"],"scale":{"type":"band","paddingInner":0,"paddingOuter":0},"axis":{"title":"Time (h)","labelAngle":0,"labelFont":"Liberation Serif","labelFontWeight":"bold","labelFontSize":20,"labelColor":"#000","labelPadding":12,"tickSize":-6,"tickWidth":1.5,"tickColor":"#000","bandPosition":0,"domainColor":"#000","domainWidth":1.5,"titleFont":"Liberation Serif","titleFontSize":21,"titleFontWeight":"bold","titleColor":"#000","titlePadding":12}},
"xOffset":{"field":"g","type":"nominal","sort":["Control","Compound 1S","Compound 1N"],"scale":{"paddingOuter":0.72,"paddingInner":0}}
},
"layer":[
{"mark":{"type":"bar","stroke":"#000","strokeWidth":1.3},"encoding":{
"y":{"field":"v","type":"quantitative","scale":{"domain":[0,60],"nice":false},"axis":{"title":"Fold induction","values":[0,10,20,30,40,50,60],"labelExpr":"datum.value % 20 == 0 ? datum.label : ''","labelFont":"Liberation Serif","labelFontWeight":"bold","labelFontSize":20,"labelColor":"#000","labelPadding":23,"tickSize":-6,"tickWidth":1.3,"tickColor":"#000","domainColor":"#000","domainWidth":1.5,"titleFont":"Liberation Serif","titleFontSize":21,"titleFontWeight":"bold","titleColor":"#000","titlePadding":22}},
"fill":{"field":"g","type":"nominal","sort":["Control","Compound 1S","Compound 1N"],"scale":{"domain":["Control","Compound 1S","Compound 1N"],"range":["#ffffff","#ff8080","#8080ff"]},"legend":{"title":null,"orient":"top-left","offset":10,"padding":0,"symbolOffset":10,"symbolType":"M-1.2,-0.95H1.2V0.95H-1.2Z","symbolSize":441,"symbolStrokeColor":"#000","symbolStrokeWidth":1.3,"labelFont":"Liberation Serif","labelFontWeight":"bold","labelFontSize":18,"labelColor":"#000","rowPadding":2,"labelOffset":10}}}},
{"transform":[{"filter":"isValid(datum.lo)"}],"mark":{"type":"rule","color":"#000","strokeWidth":1.5},"encoding":{"y":{"field":"lo","type":"quantitative","title":"Fold induction"},"y2":{"field":"hi"}}},
{"transform":[{"filter":"isValid(datum.lo)"}],"mark":{"type":"tick","color":"#000","thickness":1.5,"size":12},"encoding":{"y":{"field":"lo","type":"quantitative","title":"Fold induction"}}},
{"transform":[{"filter":"isValid(datum.lo)"}],"mark":{"type":"tick","color":"#000","thickness":1.5,"size":12},"encoding":{"y":{"field":"hi","type":"quantitative","title":"Fold induction"}}}
]
}
],
"spacing":-5,
"resolve":{"scale":{"color":"independent","fill":"independent"},"legend":{"color":"independent","fill":"independent"}}
}
